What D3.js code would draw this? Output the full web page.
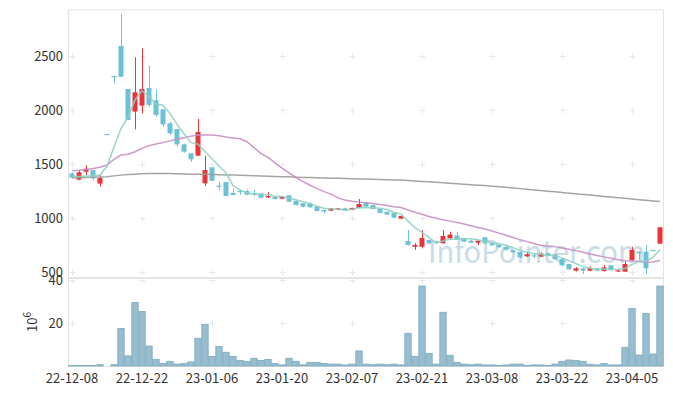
<!DOCTYPE html>
<html>
<head>
<meta charset="utf-8">
<script src="https://cdn.jsdelivr.net/npm/d3@7"></script>
<style>
  html, body { margin: 0; padding: 0; background: #fff; }
  svg { display: block; font-family: "Noto Sans CJK KR", "Noto Sans", sans-serif; }
  .tick-label { font-size: 13px; fill: #333; }
</style>
</head>
<body>
<div id="chart"></div>
<script>
// trading days (KRX), one per candle
const dates = [
  "22-12-08","22-12-09","22-12-12","22-12-13","22-12-14","22-12-15","22-12-16","22-12-19","22-12-20","22-12-21",
  "22-12-22","22-12-23","22-12-26","22-12-27","22-12-28","22-12-29","23-01-02","23-01-03","23-01-04","23-01-05",
  "23-01-06","23-01-09","23-01-10","23-01-11","23-01-12","23-01-13","23-01-16","23-01-17","23-01-18","23-01-19",
  "23-01-20","23-01-25","23-01-26","23-01-27","23-01-30","23-01-31","23-02-01","23-02-02","23-02-03","23-02-06",
  "23-02-07","23-02-08","23-02-09","23-02-10","23-02-13","23-02-14","23-02-15","23-02-16","23-02-17","23-02-20",
  "23-02-21","23-02-22","23-02-23","23-02-24","23-02-27","23-02-28","23-03-02","23-03-03","23-03-06","23-03-07",
  "23-03-08","23-03-09","23-03-10","23-03-13","23-03-14","23-03-15","23-03-16","23-03-17","23-03-20","23-03-21",
  "23-03-22","23-03-23","23-03-24","23-03-27","23-03-28","23-03-29","23-03-30","23-03-31","23-04-03","23-04-04",
  "23-04-05","23-04-06","23-04-07","23-04-10","23-04-11"
];
const open = [
  1414,1355,1428,1444,1318,1778,2315,2593,2194,1985,
  2040,2204,2090,2006,1876,1824,1682,1599,1577,1321,
  1469,1300,1333,1231,1250,1250,1232,1228,1192,1194,
  1179,1210,1160,1136,1136,1105,1074,1068,1074,1090,
  1074,1093,1145,1120,1083,1058,1049,994,787,734,
  734,796,781,766,812,837,805,790,771,821,
  766,753,731,701,685,645,655,642,673,664,
  620,574,512,534,512,534,509,562,512,503,
  611,688,688,704,762
];
const high = [
  1420,1444,1488,1444,1398,1778,2315,2886,2194,2488,
  2571,2410,2191,2006,1890,1824,1690,1600,1917,1577,
  1469,1336,1333,1275,1262,1265,1262,1230,1240,1196,
  1198,1212,1162,1138,1140,1108,1074,1092,1092,1095,
  1095,1176,1150,1122,1085,1060,1050,1022,889,766,
  889,800,790,889,873,866,810,800,795,825,
  770,755,734,705,688,680,675,680,676,668,
  622,576,545,537,552,537,565,565,530,602,
  734,688,750,704,914
];
const low = [
  1365,1350,1398,1349,1290,1778,2247,2308,1907,1821,
  1969,2030,1938,1845,1769,1660,1605,1521,1577,1296,
  1345,1259,1204,1213,1215,1210,1205,1180,1185,1170,
  1175,1150,1115,1100,1095,1060,1043,1065,1072,1065,
  1072,1090,1100,1080,1043,1028,995,990,745,704,
  719,760,760,762,796,800,778,768,750,762,
  743,725,700,675,630,640,628,640,648,612,
  549,520,505,481,508,508,505,515,500,500,
  605,611,481,704,762
];
const close = [
  1373,1423,1456,1367,1370,1778,2315,2308,1907,2164,
  2194,2046,1954,1867,1784,1682,1614,1543,1796,1444,
  1345,1290,1204,1213,1240,1216,1225,1188,1204,1176,
  1198,1151,1120,1105,1099,1065,1060,1090,1090,1068,
  1093,1130,1105,1083,1046,1031,1003,1019,750,750,
  815,766,770,833,846,803,781,771,790,766,
  747,729,706,682,636,664,651,670,651,618,
  562,525,534,512,537,512,543,518,515,574,
  704,673,534,704,914
];
// volume, millions of shares
const volume = [
  0.3,0.3,0.3,0.3,0.6,0,0.6,17.5,4.7,29.6,
  25.4,9.3,3.1,1.2,2.2,0.9,1.2,1.9,12.9,19.4,
  4.5,9.1,6.4,4.5,2.6,2.2,3.6,2.6,3.1,1.2,
  0.5,3.6,2.2,0.5,1.7,1.7,1.2,0.9,0.9,0.5,
  0.9,7.0,0.9,0.6,0.9,0.6,0.9,0.5,15.2,4.5,
  37.2,5.9,0.9,25.0,5.0,1.7,0.9,0.6,0.9,0.5,
  0.5,0.2,0.5,0.9,0.9,0.3,0.5,0.5,0.3,0.9,
  2.2,2.8,2.5,2.2,0.8,0.5,1.2,0.5,0.5,8.7,
  26.8,5.1,24.5,5.6,37.2
];
// moving averages as drawn: short (green), mid (pink), long (grey)
const maShort = [
  1385,1385,1390,1390,1398,1479,1657,1828,1936,2094,
  2178,2124,2053,2045,1969,1867,1780,1698,1684,1616,
  1548,1484,1416,1299,1258,1233,1220,1216,1215,1202,
  1198,1183,1170,1150,1135,1108,1090,1084,1081,1075,
  1080,1094,1097,1096,1091,1079,1054,1036,970,911,
  867,820,770,787,806,804,807,807,798,782,
  771,761,748,726,700,683,668,661,654,651,
  630,605,578,550,534,524,528,524,525,532,
  571,597,600,638,706
];
const maMid = [
  1438,1442,1450,1458,1470,1491,1543,1583,1590,1614,
  1645,1670,1686,1698,1714,1729,1743,1758,1768,1769,
  1768,1761,1749,1741,1734,1706,1652,1596,1561,1511,
  1461,1417,1375,1337,1303,1272,1244,1221,1186,1167,
  1155,1147,1142,1135,1126,1116,1105,1097,1074,1053,
  1034,1014,997,983,971,958,944,928,913,898,
  880,860,840,820,800,781,764,746,741,735,
  722,710,698,682,667,652,640,628,614,604,
  602,599,591,592,606
];
const maLong = [
  1373,1374,1375,1377,1379,1382,1390,1397,1402,1406,
  1410,1412,1413,1413,1412,1410,1408,1406,1405,1404,
  1403,1401,1399,1397,1395,1393,1391,1389,1387,1385,
  1383,1381,1378,1376,1374,1372,1370,1368,1367,1365,
  1364,1362,1360,1359,1357,1355,1353,1351,1347,1343,
  1339,1335,1331,1326,1322,1318,1313,1309,1304,1300,
  1295,1290,1284,1278,1272,1266,1260,1254,1248,1242,
  1236,1230,1224,1218,1212,1206,1200,1194,1188,1182,
  1176,1170,1164,1158,1152
];
const priceTicks = [500, 1000, 1500, 2000, 2500];
const volumeTicks = [20, 40];
const dateTicks = ["22-12-08","22-12-22","23-01-06","23-01-20","23-02-07","23-02-21","23-03-08","23-03-22","23-04-05"];

(function () {
    const W = 673, H = 396;
    const left = 68.5, right = 663.5, top = 10, split = 278, bottom = 366;
    const upColor = "#e8343b", downColor = "#6cc0d8";

    const svg = d3.select("#chart").append("svg").attr("width", W).attr("height", H);

    const idx = d3.range(dates.length);
    const x = d3.scaleBand().domain(idx).range([left, right]);
    const cx = i => x(i) + x.bandwidth() / 2;
    const y = d3.scaleLinear().domain([500, 2500]).range([272, 56]);
    const yv = d3.scaleLinear().domain([0, 40]).range([bottom, 280]);

    // frame
    const frame = svg.append("g").attr("fill", "none").attr("stroke", "#e4e4e4");
    frame.append("line").attr("x1", left).attr("x2", left).attr("y1", top).attr("y2", bottom);
    frame.append("line").attr("x1", right).attr("x2", right).attr("y1", top).attr("y2", bottom);
    frame.append("line").attr("x1", left).attr("x2", right).attr("y1", top).attr("y2", top);
    frame.append("line").attr("x1", left).attr("x2", right).attr("y1", split).attr("y2", split).attr("stroke-width", 2);
    frame.append("line").attr("x1", left).attr("x2", right).attr("y1", bottom + 0.5).attr("y2", bottom + 0.5);

    // grid crosses (faint)
    const tickIdx = dateTicks.map(d => dates.indexOf(d));
    const crossY = priceTicks.map(y).concat(volumeTicks.map(yv));
    const cross = svg.append("g").attr("stroke", "#e8e8e8").attr("stroke-width", 1);
    tickIdx.forEach(i => crossY.forEach(py => {
        const px = Math.round(cx(i)) + 0.5, pyy = Math.round(py) + 0.5;
        cross.append("line").attr("x1", px - 3).attr("x2", px + 3).attr("y1", pyy).attr("y2", pyy);
        cross.append("line").attr("x1", px).attr("x2", px).attr("y1", pyy - 3).attr("y2", pyy + 3);
    }));

    // watermark
    svg.append("text").attr("x", 428).attr("y", 263)
        .attr("font-size", 31).attr("fill", "#c9dce7")
        .attr("textLength", 217).attr("lengthAdjust", "spacingAndGlyphs")
        .text("InfoPointer.com");

    // volume bars
    svg.append("g").selectAll("rect").data(idx).join("rect")
        .attr("x", i => cx(i) - 3.2).attr("width", 6.4)
        .attr("y", i => yv(volume[i])).attr("height", i => bottom - yv(volume[i]))
        .attr("fill", "#97bdcf").attr("stroke", "#7fa9be").attr("stroke-width", 0.8);

    // candles
    const col = i => close[i] > open[i] ? upColor : downColor;
    const candle = svg.append("g").selectAll("g").data(idx).join("g");
    candle.append("line")
        .attr("x1", i => Math.round(cx(i)) + 0.5).attr("x2", i => Math.round(cx(i)) + 0.5)
        .attr("y1", i => y(high[i])).attr("y2", i => y(low[i]))
        .attr("stroke", col).attr("stroke-width", 1);
    candle.append("rect")
        .attr("x", i => cx(i) - 2.5).attr("width", 5)
        .attr("y", i => y(Math.max(open[i], close[i])))
        .attr("height", i => Math.max(1.2, Math.abs(y(open[i]) - y(close[i]))))
        .attr("fill", col);

    // moving averages
    const line = d3.line().x((d, i) => cx(i)).y(d => y(d));
    [[maLong, "#9a9a9a"], [maMid, "#c98dc3"], [maShort, "#8fd0c2"]].forEach(([s, c]) => {
        svg.append("path").datum(s).attr("d", line)
            .attr("fill", "none").attr("stroke", c).attr("stroke-width", 1.5).attr("opacity", 0.9);
    });

    // axes labels
    svg.append("g").selectAll("text").data(priceTicks).join("text")
        .attr("class", "tick-label").attr("x", 63).attr("y", d => y(d)).attr("dy", "0.35em")
        .attr("text-anchor", "end").text(d => d);
    svg.append("g").selectAll("text").data(volumeTicks).join("text")
        .attr("class", "tick-label").attr("x", 63).attr("y", d => yv(d)).attr("dy", "0.35em")
        .attr("text-anchor", "end").text(d => d);
    svg.append("g").selectAll("text").data(tickIdx).join("text")
        .attr("class", "tick-label").attr("x", i => cx(i)).attr("y", 378).attr("dy", "0.35em")
        .attr("text-anchor", "middle").text(i => dates[i]);

    const unit = svg.append("text").attr("class", "tick-label")
        .attr("transform", "translate(37,322) rotate(-90)").attr("text-anchor", "middle");
    unit.append("tspan").text("10");
    unit.append("tspan").attr("dy", -6).attr("font-size", 10).text("6");
})();
</script>
</body>
</html>
